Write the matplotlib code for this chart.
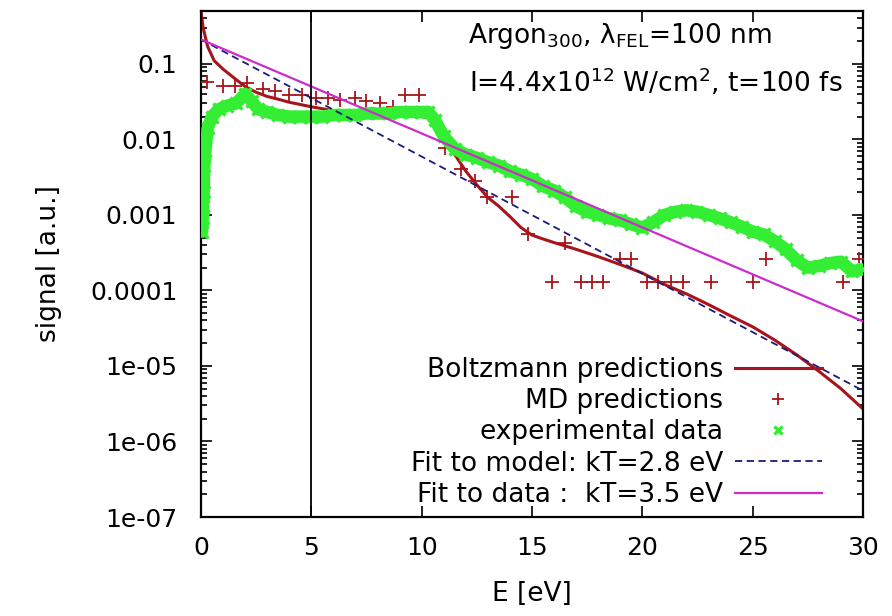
import matplotlib
matplotlib.use("Agg")
import matplotlib.pyplot as plt
from matplotlib.lines import Line2D
from matplotlib.ticker import FixedLocator, LogLocator, NullFormatter

# Boltzmann model curve (E in eV, signal in a.u.)
boltz_E = [0.0, 0.1, 0.3, 0.6, 1.0, 1.5, 2.0, 2.5, 3.0, 3.5, 4.0, 5.0, 6.0, 7.0,
           8.0, 9.0, 10.0, 10.5, 11.0, 11.5, 12.0, 12.5, 13.0, 13.5, 14.0, 14.5,
           15.0, 15.5, 16.0, 17.0, 18.0, 19.0, 20.0, 21.0, 22.0, 23.0, 24.0,
           25.0, 26.0, 27.0, 28.0, 29.0, 30.0]
boltz_S = [0.5, 0.3, 0.17, 0.11, 0.085, 0.065, 0.05, 0.042, 0.037, 0.034, 0.031,
           0.027, 0.024, 0.023, 0.022, 0.021, 0.02, 0.019, 0.011, 0.0063, 0.0038,
           0.0025, 0.0017, 0.0013, 0.00095, 0.00068, 0.00054, 0.00048, 0.00043,
           0.00035, 0.00028, 0.00022, 0.00017, 0.00012, 9e-5, 6.5e-5, 4.6e-5,
           3.3e-5, 2.2e-5, 1.4e-5, 8.5e-6, 5e-6, 2.7e-6]

# MD predictions
md_E = [0.27, 1.0, 1.55, 2.1, 2.8, 3.35, 4.0, 4.6, 5.2, 5.75, 6.3, 7.0, 7.5, 8.1,
        8.7, 9.25, 9.9, 11.05, 11.8, 12.4, 12.95, 14.1, 14.8, 15.9, 16.5, 17.2,
        17.7, 18.2, 19.0, 19.5, 20.2, 20.7, 21.3, 21.85, 23.1, 25.0, 25.6, 29.1,
        29.8]
md_S = [0.057, 0.051, 0.051, 0.055, 0.046, 0.044, 0.039, 0.039, 0.035, 0.035,
        0.033, 0.035, 0.032, 0.030, 0.027, 0.039, 0.039, 0.0076, 0.0041, 0.0028,
        0.0017, 0.0017, 0.00055, 0.00013, 0.00042, 0.00013, 0.00013, 0.00013,
        0.00026, 0.00026, 0.00013, 0.00013, 0.00013, 0.00013, 0.00013, 0.00013,
        0.00026, 0.00013, 0.00026]

# experimental data
exp_E = [0.05, 0.08, 0.1, 0.12, 0.15, 0.2, 0.3, 0.5, 0.8, 1.2, 1.6, 2.0, 2.3,
         2.6, 3.0, 3.5, 4.0, 4.5, 5.0, 5.5, 6.0, 6.5, 7.0, 7.5, 8.0, 8.5, 9.0,
         9.5, 10.0, 10.3, 10.6, 11.0, 11.5, 12.0, 12.5, 13.0, 13.5, 14.0, 14.5,
         15.0, 15.5, 16.0, 16.5, 17.0, 17.5, 18.0, 18.5, 19.0, 19.5, 20.0, 20.5,
         21.0, 21.5, 22.0, 22.5, 23.0, 23.5, 24.0, 24.5, 25.0, 25.5, 26.0, 26.5,
         27.0, 27.5, 28.0, 28.5, 29.0, 29.5, 30.0]
exp_S = [0.0006, 0.0009, 0.0013, 0.002, 0.0045, 0.007, 0.014, 0.02, 0.025, 0.028,
         0.03, 0.04, 0.032, 0.025, 0.023, 0.021, 0.02, 0.02, 0.02, 0.02, 0.021,
         0.021, 0.021, 0.022, 0.022, 0.022, 0.023, 0.023, 0.023, 0.023, 0.018,
         0.011, 0.0075, 0.0063, 0.0057, 0.005, 0.0045, 0.0038, 0.0034, 0.003,
         0.0024, 0.0021, 0.0017, 0.0013, 0.0011, 0.001, 0.0009, 0.00085, 0.00075,
         0.00068, 0.0008, 0.001, 0.0011, 0.00115, 0.0011, 0.001, 0.0009, 0.0008,
         0.0007, 0.0006, 0.00055, 0.00045, 0.00035, 0.00025, 0.0002, 0.00021,
         0.00023, 0.00024, 0.00018, 0.00019]

# exponential fits (straight lines on log scale)
fit_E = [0.0, 30.0]
fit_model_S = [0.21, 4.7e-6]
fit_data_S = [0.21, 3.9e-5]

labels = ["Boltzmann predictions", "MD predictions", "experimental data",
          "Fit to model: kT=2.8 eV", "Fit to data :  kT=3.5 eV"]

x_ticks = [0, 5, 10, 15, 20, 25, 30]
y_ticks = [1e-7, 1e-6, 1e-5, 1e-4, 1e-3, 1e-2, 1e-1]
y_ticklabels = ["1e-07", "1e-06", "1e-05", "0.0001", "0.001", "0.01", "0.1"]

RED = "#a8141c"
GREEN = "#33ee33"
BLUE = "#1a1a80"
MAGENTA = "#cc2ccc"

plt.rcParams["font.family"] = ["DejaVu Sans"]
plt.rcParams["font.size"] = 19

fig = plt.figure(figsize=(8.92, 6.16), dpi=100)
ax = fig.add_axes([0.2253, 0.1607, 0.7422, 0.8214])

ax.plot(boltz_E, boltz_S, color=RED, lw=2.2, zorder=2)
ax.plot(md_E, md_S, ls="none", marker="+", ms=10, mew=1.3, color=RED, zorder=3)
ax.plot(exp_E, exp_S, color=GREEN, lw=9, solid_capstyle="round", zorder=4)
ax.plot(exp_E, exp_S, ls="none", marker="x", ms=8, mew=2.5, color=GREEN, zorder=4)
ax.plot(fit_E, fit_model_S, color=BLUE, lw=1.3, ls=(0, (4, 2.5)), zorder=5)
ax.plot(fit_E, fit_data_S, color=MAGENTA, lw=1.6, zorder=5)
ax.axvline(5, color="black", lw=1.3, zorder=6)

ax.set_yscale("log")
ax.set_xlim(0, 30)
ax.set_ylim(1e-7, 0.5)
ax.xaxis.set_major_locator(FixedLocator(x_ticks))
ax.set_xticklabels([str(t) for t in x_ticks])
ax.yaxis.set_major_locator(FixedLocator(y_ticks))
ax.set_yticklabels(y_ticklabels)
ax.yaxis.set_minor_locator(LogLocator(base=10, subs=range(2, 10)))
ax.yaxis.set_minor_formatter(NullFormatter())

ax.tick_params(which="both", direction="in", top=True, right=True, width=1.2,
               labelsize=18)
ax.tick_params(which="major", length=8)
ax.tick_params(which="minor", length=4)
ax.tick_params(axis="x", pad=14)
ax.tick_params(axis="y", pad=17)
for s in ax.spines.values():
    s.set_linewidth(1.6)

ax.set_xlabel("E [eV]", labelpad=15)
ax.set_ylabel("signal [a.u.]", labelpad=20)

ax.text(0.403, 0.937, r"Argon$_{\mathregular{300}}$, λ$_{\mathregular{FEL}}$=100 nm",
        transform=ax.transAxes, ha="left", va="baseline")
ax.text(0.405, 0.84,
        r"I=4.4x10$^{\mathregular{12}}$ W/cm$^{\mathregular{2}}$, t=100 fs",
        transform=ax.transAxes, ha="left", va="baseline")

handles = [
    Line2D([], [], color=RED, lw=2.2),
    Line2D([], [], ls="none", marker="+", ms=9, mew=1.3, color=RED),
    Line2D([], [], ls="none", marker="x", ms=6, mew=2.5, color=GREEN),
    Line2D([], [], color=BLUE, lw=1.3, ls=(0, (4, 2.5))),
    Line2D([], [], color=MAGENTA, lw=1.6),
]
ax.legend(handles, labels, loc="lower right", bbox_to_anchor=(0.938, 0.018),
          markerfirst=False, frameon=False, handlelength=3.3, handletextpad=0.45,
          labelspacing=0.2, borderpad=0, borderaxespad=0)

fig.savefig("out.png", dpi=100)
